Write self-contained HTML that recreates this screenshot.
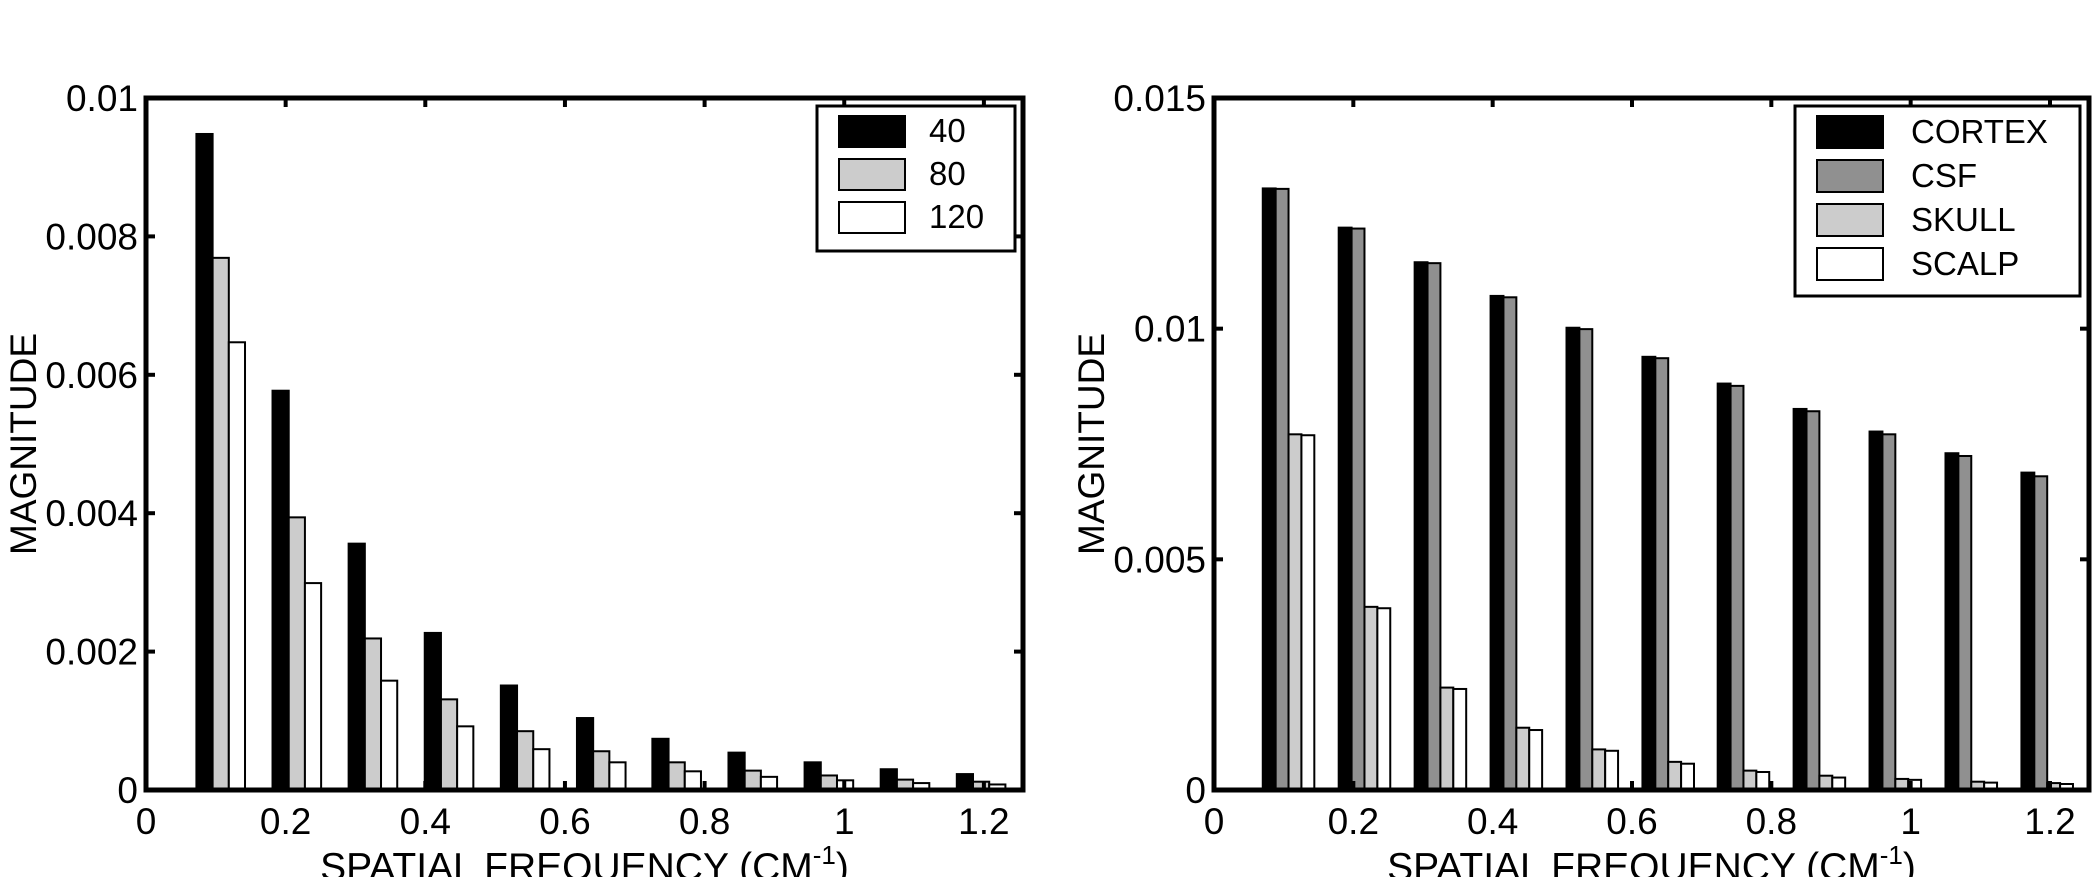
<!DOCTYPE html>
<html><head><meta charset="utf-8"><style>
body{margin:0;background:#fff;}
svg{display:block;font-family:"Liberation Sans",sans-serif;}
</style></head><body>
<svg id="c" width="2100" height="877"></svg>
<script>
const freqCenters=[0.107,0.216,0.325,0.434,0.543,0.652,0.760,0.869,0.978,1.087,1.196];
const xTicks=[0,0.2,0.4,0.6,0.8,1,1.2];
const xTickLabels=["0","0.2","0.4","0.6","0.8","1","1.2"];
const leftSeriesNames=["40","80","120"];
const s40=[0.00948,0.00577,0.00356,0.00227,0.00151,0.00104,0.00074,0.00054,0.00040,0.00030,0.00023];
const s80=[0.00769,0.00394,0.00219,0.00131,0.00085,0.00056,0.00040,0.00028,0.00021,0.00015,0.00012];
const s120=[0.00647,0.00299,0.00158,0.00092,0.00059,0.00040,0.00027,0.00019,0.00014,0.00010,0.00008];
const leftYTicks=[0,0.002,0.004,0.006,0.008,0.01];
const leftYTickLabels=["0","0.002","0.004","0.006","0.008","0.01"];
const rightSeriesNames=["CORTEX","CSF","SKULL","SCALP"];
const cortex=[0.01304,0.01219,0.01144,0.01071,0.01002,0.00939,0.00881,0.00826,0.00777,0.00730,0.00688];
const csf=[0.01303,0.01217,0.01142,0.01068,0.00999,0.00936,0.00876,0.00821,0.00771,0.00724,0.00680];
const skull=[0.00771,0.00397,0.00222,0.00135,0.00088,0.00061,0.00042,0.00031,0.00024,0.00018,0.00015];
const scalp=[0.00769,0.00394,0.00219,0.00130,0.00085,0.00057,0.00039,0.00027,0.00022,0.00016,0.00013];
const rightYTicks=[0,0.005,0.01,0.015];
const rightYTickLabels=["0","0.005","0.01","0.015"];

const NS="http://www.w3.org/2000/svg";
const svg=document.getElementById('c');
function el(tag,attrs,parent,text){const e=document.createElementNS(NS,tag);for(const k in attrs)e.setAttribute(k,attrs[k]);if(text!==undefined)e.textContent=text;(parent||svg).appendChild(e);return e;}

function panel(name,L,R,T,B,xmax,ymax,series,fills,names,barW,yTicks,yLabels,leg){
  const g=el('g',{});
  
  
  const X=v=>L+(v/xmax)*(R-L);
  const Y=v=>B-(v/ymax)*(B-T);
  const n=series.length;
  series.forEach((arr,si)=>{
    arr.forEach((v,i)=>{
      const x0=X(freqCenters[i]-n*barW/2+si*barW);
      const r=el('rect',{x:x0,y:Y(v),width:X(barW)-X(0),height:B-Y(v),fill:fills[si],stroke:'#000','stroke-width':2},g);
      
      
    });
  });
  el('line',{x1:L,x2:R,y1:B,y2:B,stroke:'#000','stroke-width':5},g);
  xTicks.forEach((t,i)=>{
    el('line',{x1:X(t),x2:X(t),y1:B,y2:B-9,stroke:'#000','stroke-width':4},g);
    el('line',{x1:X(t),x2:X(t),y1:T,y2:T+9,stroke:'#000','stroke-width':4},g);
    const tx=el('text',{x:X(t),y:B+44,'font-size':37,'text-anchor':'middle'},g,xTickLabels[i]);
    
    
  });
  yTicks.forEach((t,i)=>{
    el('line',{x1:L,x2:L+9,y1:Y(t),y2:Y(t),stroke:'#000','stroke-width':4},g);
    el('line',{x1:R,x2:R-9,y1:Y(t),y2:Y(t),stroke:'#000','stroke-width':4},g);
    const ty=el('text',{x:L-8,y:Y(t)+13,'font-size':37,'text-anchor':'end'},g,yLabels[i]);
    
    
  });
  const frame=el('rect',{x:L,y:T,width:R-L,height:B-T,fill:'none',stroke:'#000','stroke-width':5},g);
  
  
  const xt=el('text',{x:(L+R)/2,y:880,'font-size':39,'text-anchor':'middle'},g);
  
  
  xt.innerHTML='SPATIAL FREQUENCY (CM<tspan dy="-16" font-size="26">-1</tspan><tspan dy="16">)</tspan>';
  const yt=el('text',{x:0,y:0,'font-size':37,'text-anchor':'middle',transform:`translate(${L-110},${(T+B)/2}) rotate(-90)`},g,'MAGNITUDE');
  
  
  const lg=el('g',{},g);
  
  
  el('rect',{x:leg.x,y:leg.y,width:leg.w,height:leg.h,fill:'#fff',stroke:'#000','stroke-width':3},lg);
  names.forEach((nm,si)=>{
    const yy=leg.y+10+si*leg.step;
    const e=el('g',{},lg);
    
    
    el('rect',{x:leg.x+22,y:yy,width:leg.sw,height:leg.step-12,fill:fills[si],stroke:'#000','stroke-width':2},e);
    el('text',{x:leg.x+leg.tx,y:yy+leg.step-17,'font-size':33},e,nm);
  });
}
panel('left-chart',146,1023,98,790,1.256,0.01,[s40,s80,s120],['#000','#ccc','#fff'],leftSeriesNames,0.0232,leftYTicks,leftYTickLabels,{x:817,y:106,w:198,h:145,step:43,sw:66,tx:112});
panel('right-chart',1214,2089,98,790,1.256,0.015,[cortex,csf,skull,scalp],['#000','#909090','#ccc','#fff'],rightSeriesNames,0.0185,rightYTicks,rightYTickLabels,{x:1795,y:106,w:285,h:190,step:44,sw:66,tx:116});
</script>
</body></html>
